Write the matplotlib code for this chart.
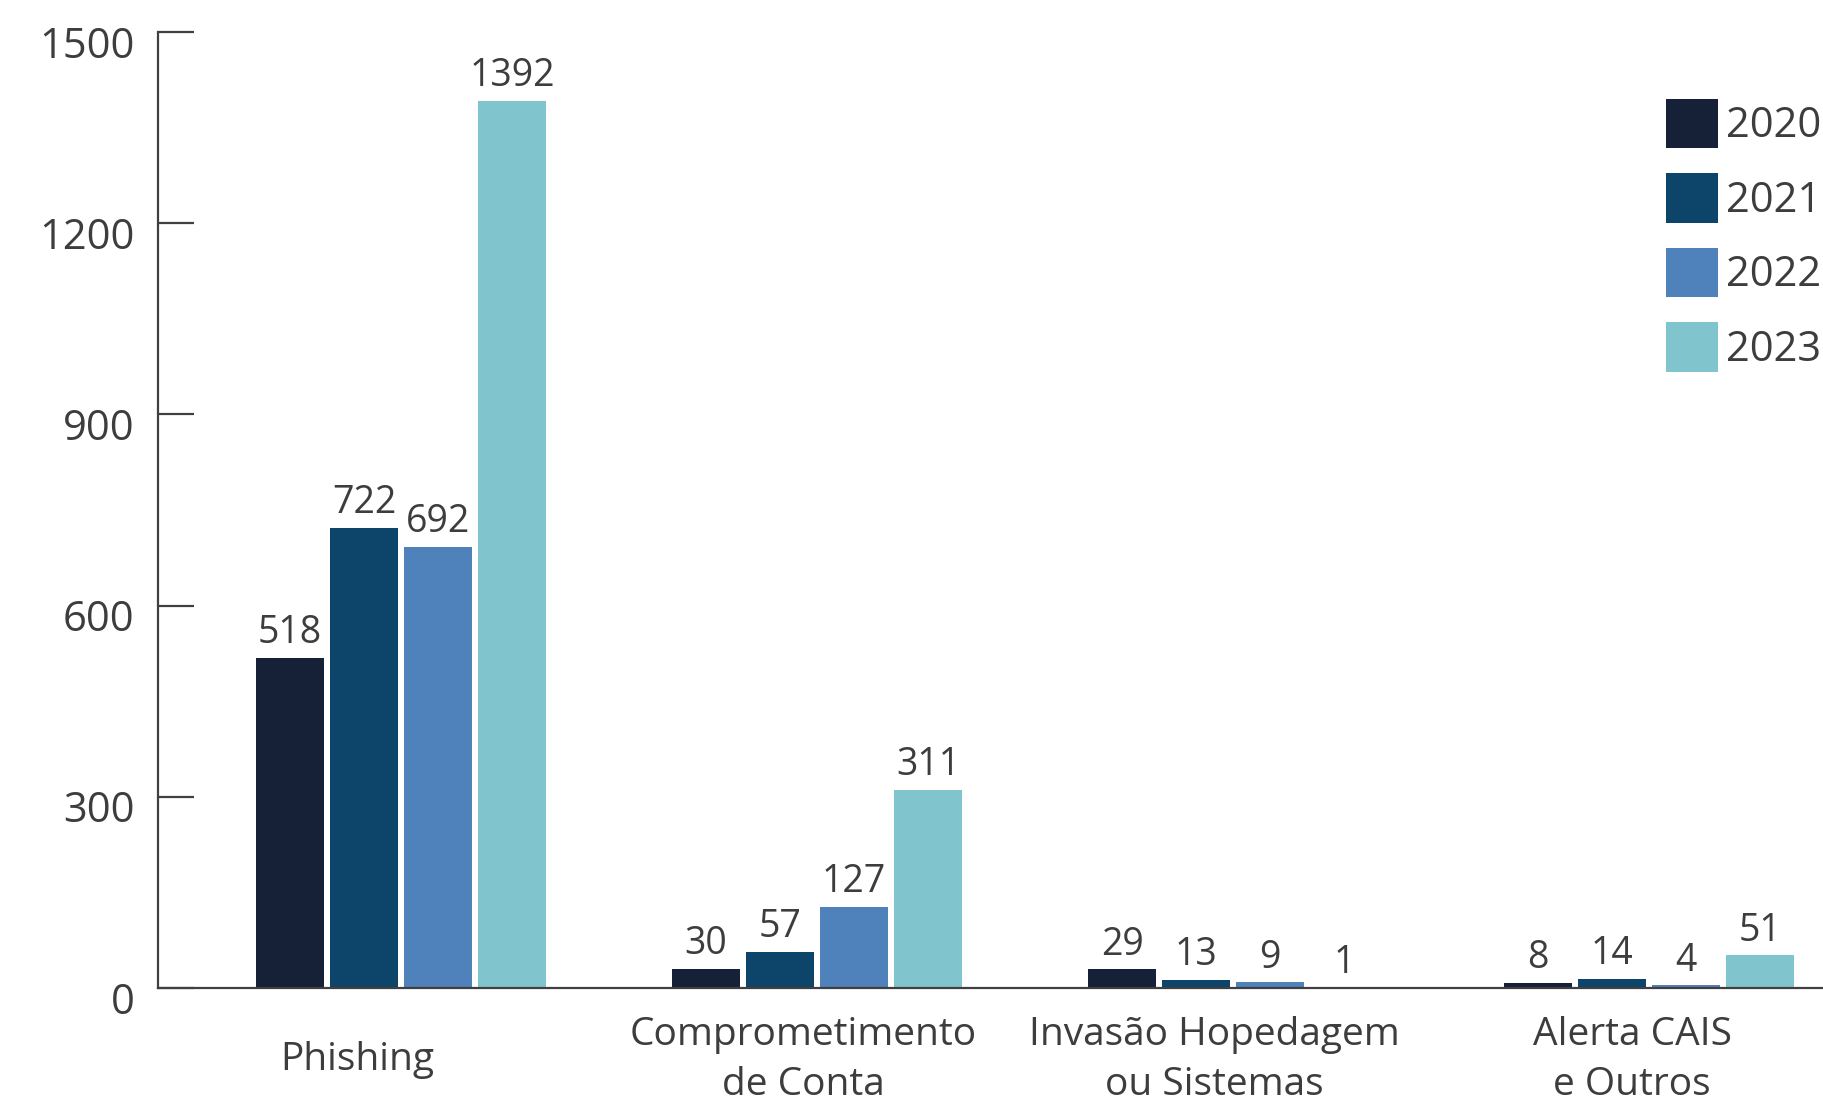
import numpy as np
import matplotlib.pyplot as plt
from matplotlib.transforms import ScaledTranslation

plt.rcParams['font.family'] = ['Open Sans', 'DejaVu Sans']

# -----------------------------
# Data
# -----------------------------
categories = ["Phishing", "Comprometimento\nde Conta",
              "Invasão Hopedagem\nou Sistemas", "Alerta CAIS\ne Outros"]
years = ["2020", "2021", "2022", "2023"]
v2020 = [518, 30, 29, 8]
v2021 = [722, 57, 13, 14]
v2022 = [692, 127, 9, 4]
v2023 = [1392, 311, 1, 51]
yticks = [0, 300, 600, 900, 1200, 1500]

colors = ["#162138", "#0d4469", "#4f82bb", "#80c4ce"]
text_col = "#3d3d3d"

# -----------------------------
# Figure
# -----------------------------
fig = plt.figure(figsize=(18.24, 11.03), dpi=100)
ax = fig.add_axes([0.0866, 0.1043, 0.9134, 0.8667])

x = np.arange(len(categories))
bw = 0.163
step = 0.178
series = [v2020, v2021, v2022, v2023]

for i, (vals, yr) in enumerate(zip(series, years)):
    pos = x + (i - 1.5) * step
    bars = ax.bar(pos, vals, width=bw, color=colors[i], label=yr, zorder=2)
    for b, v in zip(bars, vals):
        ax.annotate(str(v), (b.get_x() + b.get_width() / 2, v),
                    xytext=(0, 4), textcoords="offset points",
                    ha="center", va="bottom", fontsize=27, color=text_col)

ax.set_xlim(-0.584, 3.42)
ax.set_ylim(0, 1500)

# axes styling
for s in ["top", "right"]:
    ax.spines[s].set_visible(False)
for s in ["left", "bottom"]:
    ax.spines[s].set_color("#404040")
    ax.spines[s].set_linewidth(1.6)
ax.spines["bottom"].set_zorder(3)

ax.set_yticks(yticks)
ax.tick_params(axis="y", direction="in", length=26, width=1.6,
               color="#404040", labelsize=30, labelcolor=text_col, pad=17)
offset = ScaledTranslation(0, -7 / 72, fig.dpi_scale_trans)
for lbl in ax.get_yticklabels():
    lbl.set_transform(lbl.get_transform() + offset)

# category labels (slightly left of group centre as in source)
label_shift = [-0.106, -0.034, -0.046, -0.041]
ax.set_xticks(x + np.array(label_shift))
ax.set_xticklabels(categories, fontsize=28, color=text_col, linespacing=1.42)
ax.tick_params(axis="x", length=0, pad=52)
for lbl in ax.get_xticklabels():
    lbl.set_va("center")

leg = ax.legend(loc="upper left", bbox_to_anchor=(0.905, 0.93),
                frameon=False, fontsize=30, handlelength=1.25,
                handleheight=1.45, handletextpad=0.2, labelspacing=0.6,
                borderaxespad=0, borderpad=0)
for t in leg.get_texts():
    t.set_color(text_col)

plt.savefig("out.png", dpi=100)
